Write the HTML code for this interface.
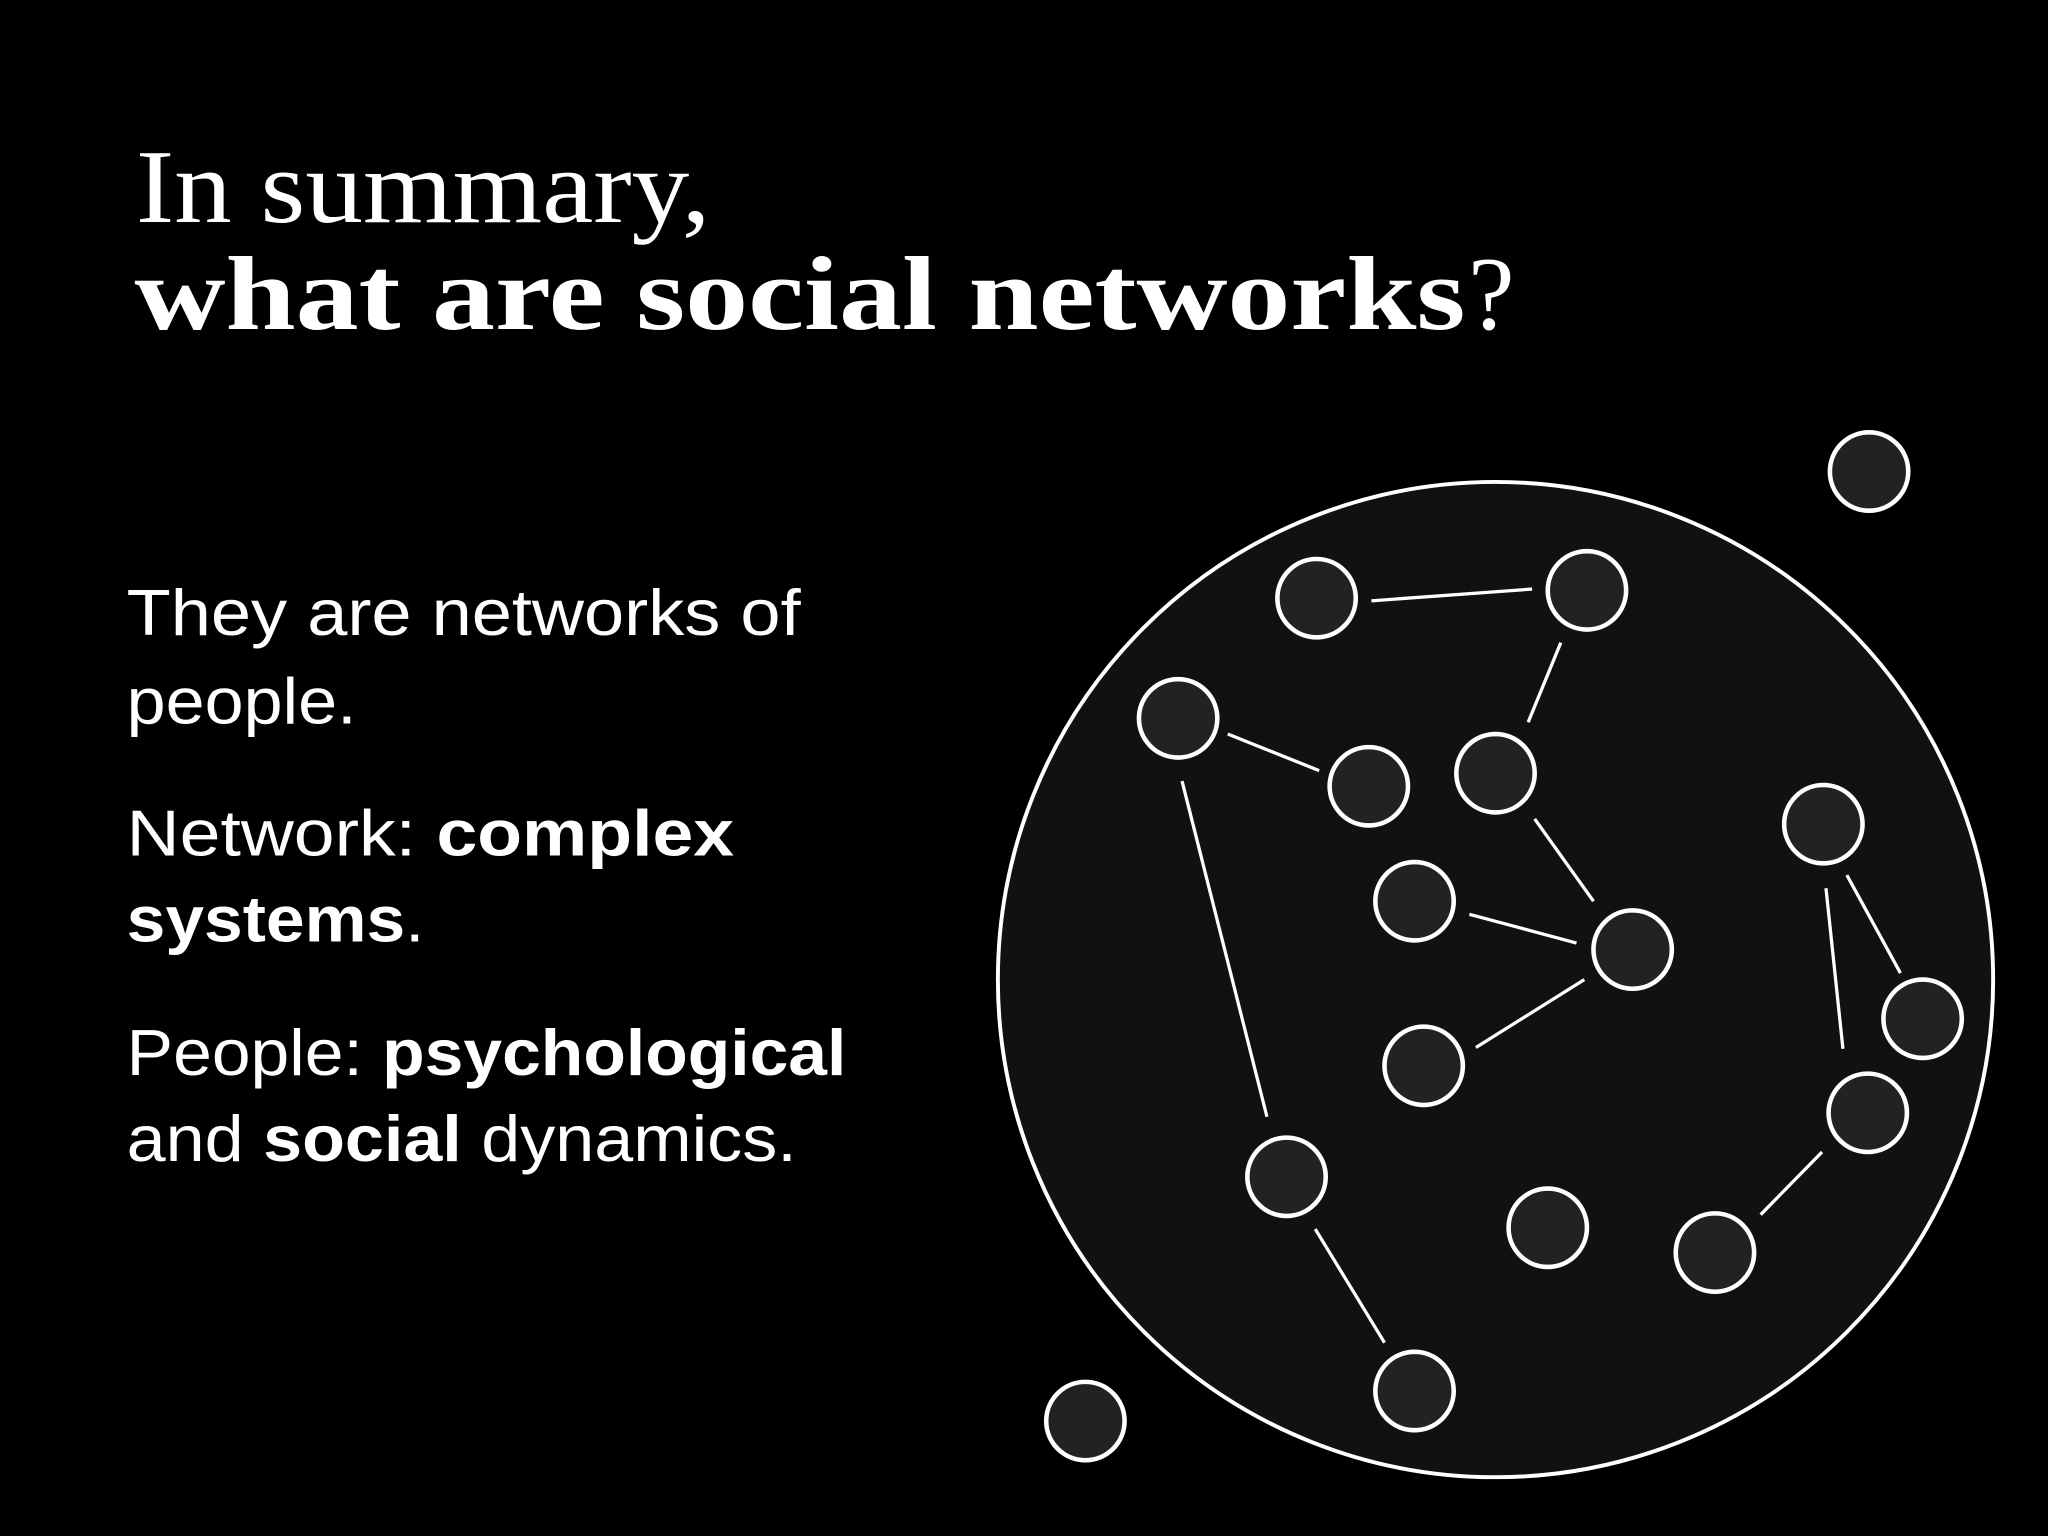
<!DOCTYPE html>
<html><head><meta charset="utf-8"><style>
html,body{margin:0;padding:0;background:#000;}
svg{display:block;}
</style></head><body>
<svg width="2048" height="1536" viewBox="0 0 1568 1176" xmlns="http://www.w3.org/2000/svg">
<rect width="1568" height="1176" fill="#000"/>
<text x="104" y="170" font-family="Liberation Serif, serif" font-size="80" fill="#fff" textLength="440" lengthAdjust="spacingAndGlyphs">In summary,</text>
<text x="103" y="252" font-family="Liberation Serif, serif" font-size="80" fill="#fff" font-weight="bold" textLength="1019" lengthAdjust="spacingAndGlyphs">what are social networks</text>
<text x="1124" y="252" font-family="Liberation Serif, serif" font-size="80" fill="#fff">?</text>
<g font-family="Liberation Sans, sans-serif" font-size="50" fill="#fff" lengthAdjust="spacingAndGlyphs">
<text x="97" y="486" textLength="516" lengthAdjust="spacingAndGlyphs">They are networks of</text>
<text x="97" y="554" textLength="176" lengthAdjust="spacingAndGlyphs">people.</text>
<text x="97" y="655" textLength="465" lengthAdjust="spacingAndGlyphs">Network: <tspan font-weight="bold">complex</tspan></text>
<text x="97" y="721" textLength="228" lengthAdjust="spacingAndGlyphs"><tspan font-weight="bold">systems</tspan>.</text>
<text x="97" y="823" textLength="551" lengthAdjust="spacingAndGlyphs">People: <tspan font-weight="bold">psychological</tspan></text>
<text x="97" y="889" textLength="513" lengthAdjust="spacingAndGlyphs">and <tspan font-weight="bold">social</tspan> dynamics.</text>
</g>
<circle cx="1145" cy="750" r="381" fill="#111" stroke="#fff" stroke-width="3"/>
<g stroke="#fff" stroke-width="2.5">
<line x1="1050" y1="460" x2="1173" y2="451"/>
<line x1="1195" y1="492" x2="1170" y2="553"/>
<line x1="940" y1="562" x2="1010" y2="590"/>
<line x1="1175" y1="627" x2="1220" y2="690"/>
<line x1="1125" y1="700" x2="1207" y2="722"/>
<line x1="1213" y1="750" x2="1130" y2="802"/>
<line x1="905" y1="598" x2="970" y2="855"/>
<line x1="1007" y1="941" x2="1060" y2="1028"/>
<line x1="1414" y1="670" x2="1455" y2="745"/>
<line x1="1398" y1="680" x2="1411" y2="803"/>
<line x1="1395" y1="882" x2="1348" y2="930"/>
</g>
<g fill="#222" stroke="#fff" stroke-width="3.5">
<circle cx="1008" cy="458" r="30"/>
<circle cx="1215" cy="452" r="30"/>
<circle cx="902" cy="550" r="30"/>
<circle cx="1048" cy="602" r="30"/>
<circle cx="1145" cy="592" r="30"/>
<circle cx="1396" cy="631" r="30"/>
<circle cx="1083" cy="690" r="30"/>
<circle cx="1250" cy="727" r="30"/>
<circle cx="1472" cy="780" r="30"/>
<circle cx="1090" cy="816" r="30"/>
<circle cx="1430" cy="852" r="30"/>
<circle cx="985" cy="901" r="30"/>
<circle cx="1185" cy="940" r="30"/>
<circle cx="1313" cy="959" r="30"/>
<circle cx="1083" cy="1065" r="30"/>
<circle cx="1431" cy="361" r="30"/>
<circle cx="831" cy="1088" r="30"/>
</g>
</svg>
</body></html>
